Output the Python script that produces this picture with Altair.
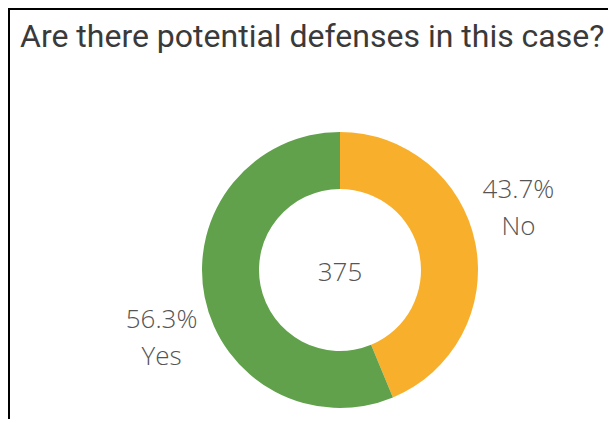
import altair as alt
import pandas as pd

TITLE = "Are there potential defenses in this case?"
categories = ["No", "Yes"]
counts = [164, 211]
order = [0, 1]
colors = ["#F8B02C", "#61A14C"]

W, H = 600, 411
CX, CY = 332, 262

df = pd.DataFrame({"answer": categories, "count": counts, "ord": order})
title_df = pd.DataFrame({"t": [TITLE]})

base = alt.Chart(df)

arc = base.mark_arc(outerRadius=138, innerRadius=81, stroke=None).encode(
    theta=alt.Theta("count:Q", stack=True),
    color=alt.Color("answer:N", scale=alt.Scale(domain=categories, range=colors), legend=None),
    order=alt.Order("ord:Q"),
    x=alt.value(CX),
    y=alt.value(CY),
)

labels = base.transform_joinaggregate(total="sum(count)").transform_calculate(
    label="format(datum.count / datum.total, '.1%') + '\\n' + datum.answer"
).mark_text(
    radius=190, thetaOffset=-0.154, dy=-15, font="Open Sans", fontSize=26, fontWeight=300,
    color="#555555", lineBreak="\n", lineHeight=37, align="center", baseline="middle",
).encode(
    theta=alt.Theta("count:Q", stack=True),
    order=alt.Order("ord:Q"),
    text="label:N",
    x=alt.value(CX),
    y=alt.value(CY),
)

center = base.transform_aggregate(total="sum(count)").mark_text(
    font="Open Sans", fontSize=26, fontWeight=300, color="#555555",
    align="center", baseline="middle", dy=3,
).encode(
    text="total:Q",
    x=alt.value(CX),
    y=alt.value(CY),
)

title = alt.Chart(title_df).mark_text(
    font="Roboto", fontSize=32, color="#3a3a3a",
    align="left", baseline="alphabetic",
).encode(text="t:N", x=alt.value(12), y=alt.value(39))

left_border = alt.Chart(title_df).mark_rule(color="black", strokeWidth=2).encode(
    x=alt.value(1), y=alt.value(0), y2=alt.value(H)
)
top_border = alt.Chart(title_df).mark_rule(color="black", strokeWidth=2).encode(
    x=alt.value(0), x2=alt.value(W), y=alt.value(1)
)

chart = alt.layer(arc, labels, center, title, left_border, top_border).properties(
    width=W, height=H, padding=0,
    autosize=alt.AutoSizeParams(type="none"),
).configure_view(stroke=None)

chart.save("out.html", embed_options={"renderer": "svg", "actions": False})
